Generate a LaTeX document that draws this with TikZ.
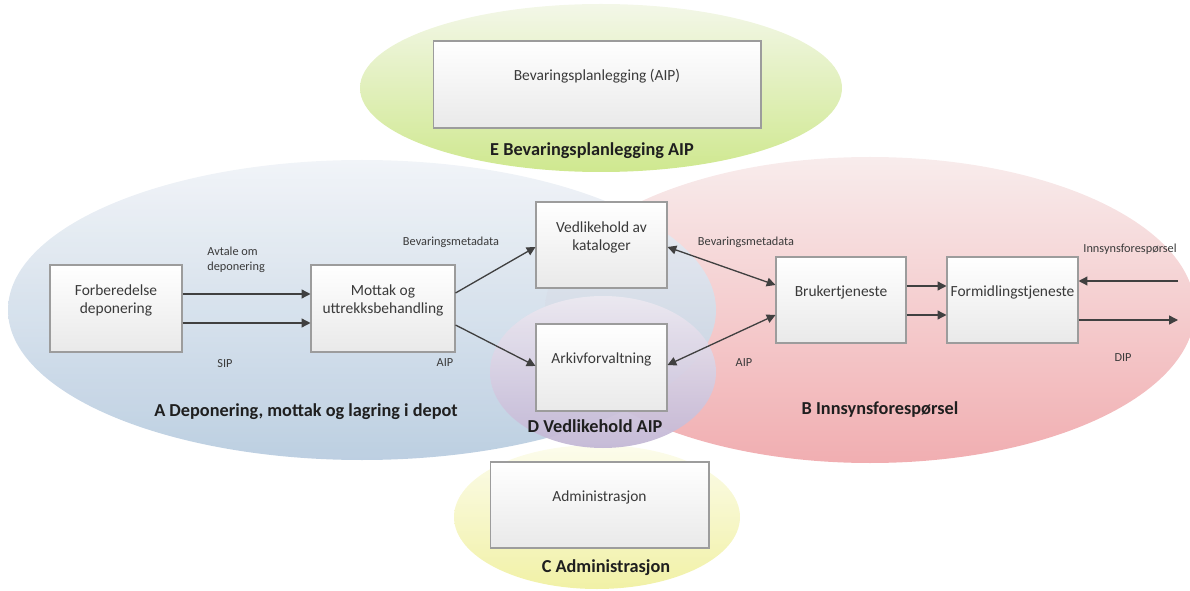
\documentclass[tikz,border=0pt]{standalone}
\usepackage{fontspec}
\setmainfont{Carlito}
\usepackage{tikz}
\usetikzlibrary{arrows.meta}
\usetikzlibrary{shapes,positioning}
\definecolor{strek}{HTML}{404040}
\definecolor{boksramme}{HTML}{9C9C9C}
\definecolor{boksbunn}{HTML}{E9E9E9}
\definecolor{tekstgraa}{HTML}{3A3A3A}
\definecolor{blaaTopp}{HTML}{F0F3F7}
\definecolor{blaaBunn}{HTML}{B7CBDF}
\definecolor{rosaTopp}{HTML}{F8ECEC}
\definecolor{rosaBunn}{HTML}{F1AEB1}
\definecolor{lillaTopp}{HTML}{ECE9F1}
\definecolor{lillaBunn}{HTML}{C3B7D5}
\definecolor{gulTopp}{HTML}{FCFCEC}
\definecolor{gulBunn}{HTML}{F1F1A6}
\definecolor{gronnTopp}{HTML}{F3F7E8}
\definecolor{gronnBunn}{HTML}{CFE88F}
\tikzset{>={Triangle[length=5pt,width=5pt]},
  boks/.style={draw=boksramme,line width=0.6pt,top color=white,bottom color=boksbunn,inner sep=0pt},
  bokstekst/.style={yshift=4.5pt,align=center,text=tekstgraa,font=\fontsize{8.8}{10.2}\selectfont},
  liten/.style={text=tekstgraa,font=\fontsize{7}{8.6}\selectfont,inner sep=0pt},
  tittel/.style={text=black!88,font=\bfseries\fontsize{10.4}{12}\selectfont,inner sep=0pt},
  pil/.style={->,draw=strek,line width=0.75pt},
  dobbelpil/.style={<->,draw=strek,line width=0.75pt}}

\begin{document}
\begin{tikzpicture}[x=0.02cm,y=-0.02cm]
  \useasboundingbox (0,0) rectangle (1190,591);
  % omraadene
  \shade[top color=gulTopp,bottom color=gulBunn] (597,517) ellipse (143 and 72);
  \shade[top color=rosaTopp,bottom color=rosaBunn] (870,310) ellipse (325 and 153);
  \shade[top color=blaaTopp,bottom color=blaaBunn,opacity=.92] (362,310) ellipse (354 and 150);
  \shade[top color=lillaTopp,bottom color=lillaBunn,opacity=.95] (603,372) ellipse (113 and 76);
  \shade[top color=gronnTopp,bottom color=gronnBunn] (601,88) ellipse (241 and 84);

  % boksene
  \node[boks,minimum width=2.64cm,minimum height=1.74cm,label={[bokstekst]center:Forberedelse\\deponering}] (forb) at (116,308.5) {};
  \node[boks,minimum width=2.88cm,minimum height=1.74cm,label={[bokstekst]center:Mottak og\\uttrekksbehandling}] (mottak) at (383,308.5) {};
  \node[boks,minimum width=2.62cm,minimum height=1.72cm,label={[bokstekst]center:Vedlikehold av\\kataloger}] (katalog) at (601.5,245) {};
  \node[boks,minimum width=2.62cm,minimum height=1.74cm,label={[bokstekst]center:Arkivforvaltning}] (arkiv) at (601.5,367.5) {};
  \node[boks,minimum width=2.6cm,minimum height=1.72cm,label={[bokstekst]center:Brukertjeneste}] (bruker) at (841,300) {};
  \node[boks,minimum width=2.62cm,minimum height=1.72cm,label={[bokstekst]center:Formidlingstjeneste}] (formidl) at (1012.5,300) {};
  \node[boks,minimum width=6.56cm,minimum height=1.74cm,label={[bokstekst]center:Bevaringsplanlegging (AIP)}] (bevplan) at (597,84.5) {};
  \node[boks,minimum width=4.38cm,minimum height=1.72cm,label={[bokstekst]center:Administrasjon}] (admin) at (599.5,505) {};

  \coordinate (innInn) at (1178,281);
  \coordinate (dipUt) at (1178,320);

  % pilene
  \draw[pil] (forb.east |- 0,294) -- (mottak.west |- 0,294);
  \draw[pil] (forb.east |- 0,323) -- (mottak.west |- 0,323);
  \draw[pil] (mottak.east |- 0,293) -- (katalog.west |- 0,247);
  \draw[pil] (mottak.east |- 0,325) -- (arkiv.west |- 0,366);
  \draw[dobbelpil] (katalog.east |- 0,247) -- (bruker.west |- 0,285);
  \draw[dobbelpil] (arkiv.east |- 0,365) -- (bruker.west |- 0,315);
  \draw[pil] (bruker.east |- 0,286) -- (formidl.west |- 0,286);
  \draw[pil] (bruker.east |- 0,315) -- (formidl.west |- 0,315);
  \draw[pil] (innInn) -- (formidl.east |- innInn);
  \draw[pil] (formidl.east |- dipUt) -- (dipUt);

  % tekstene
  \node[liten,align=left,anchor=west] (avtale) at (207,260) {Avtale om\\deponering};
  \node[liten] (sip) at (225,364) {SIP};
  \node[liten] (metaV) at (451,242) {Bevaringsmetadata};
  \node[liten] (aipV) at (445,363) {AIP};
  \node[liten] (metaH) at (746,242) {Bevaringsmetadata};
  \node[liten] (aipH) at (744,363) {AIP};
  \node[liten] (innsyn) at (1130,249) {Innsynsforespørsel};
  \node[liten] (dip) at (1123,358) {DIP};

  \node[tittel] (titA) at (306,412) {A Deponering, mottak og lagring i depot};
  \node[tittel] (titB) at (880,410) {B Innsynsforespørsel};
  \node[tittel] (titC) at (606,568) {C Administrasjon};
  \node[tittel] (titD) at (595,426) {D Vedlikehold AIP};
  \node[tittel] (titE) at (592,151) {E Bevaringsplanlegging AIP};
\end{tikzpicture}
\end{document}
